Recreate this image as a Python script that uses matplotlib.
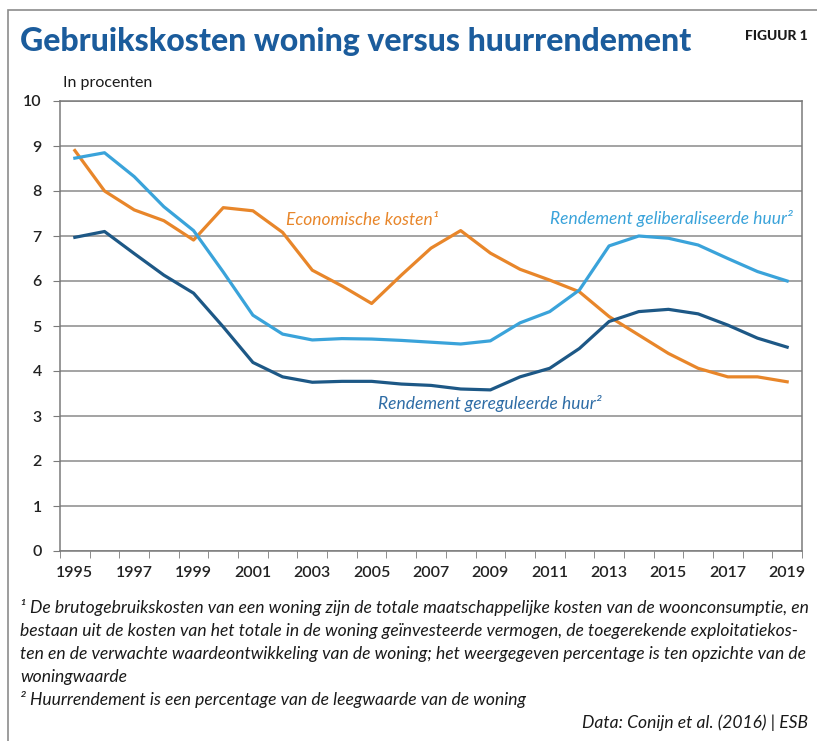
import matplotlib
matplotlib.use("Agg")
import matplotlib.pyplot as plt
import numpy as np
from matplotlib.patches import Rectangle

years = list(range(1995, 2020))

economische_kosten = [8.90, 8.00, 7.58, 7.34, 6.91, 7.63, 7.56, 7.08, 6.24, 5.89, 5.50,
                      6.13, 6.73, 7.12, 6.62, 6.26, 6.02, 5.76, 5.21, 4.80, 4.39, 4.06,
                      3.87, 3.87, 3.76]
geliberaliseerd = [8.73, 8.85, 8.32, 7.65, 7.12, 6.20, 5.24, 4.82, 4.69, 4.72, 4.71,
                   4.68, 4.64, 4.60, 4.67, 5.07, 5.32, 5.80, 6.78, 7.00, 6.95, 6.80,
                   6.50, 6.21, 6.00]
gereguleerd = [6.97, 7.10, 6.61, 6.13, 5.73, 4.98, 4.19, 3.87, 3.75, 3.77, 3.77,
               3.71, 3.68, 3.60, 3.58, 3.87, 4.06, 4.50, 5.10, 5.32, 5.37, 5.27,
               5.02, 4.73, 4.53]

year_labels = [str(y) for y in years[::2]]

ORANGE = "#E8862A"
LIGHT = "#3AA3DA"
DARK = "#1D5886"
MID = "#2F6DA6"
TITLE = "#1B5C9C"
GRID = "#8a8a8a"

sans = ["Lato", "DejaVu Sans"]

fig = plt.figure(figsize=(8.17, 7.41), dpi=100)

# outer frame
fig.patches.append(Rectangle((8 / 817, -0.05), 1.0, 0.05 + 1 - 10 / 741,
                             transform=fig.transFigure, fill=False,
                             edgecolor="#8c8c8c", lw=1.2))

ax = fig.add_axes([60 / 817, 1 - 551 / 741, 742 / 817, 450 / 741])

x = np.arange(len(years))
ax.plot(x, economische_kosten, color=ORANGE, lw=2.3, solid_joinstyle="round")
ax.plot(x, geliberaliseerd, color=LIGHT, lw=2.3, solid_joinstyle="round")
ax.plot(x, gereguleerd, color=DARK, lw=2.3, solid_joinstyle="round")

ax.set_xlim(-0.5, len(years) - 0.5)
ax.set_ylim(0, 10)
ax.set_yticks(range(0, 11))
ax.set_xticks(x[::2])
ax.set_xticklabels(year_labels)
ax.set_xticks(np.arange(-0.5, len(years)), minor=True)
ax.grid(axis="y", color=GRID, lw=1.1)
ax.set_axisbelow(True)
for s in ax.spines.values():
    s.set_color("#7a7a7a")
    s.set_linewidth(1.1)
ax.tick_params(axis="x", which="major", length=0, pad=11, labelsize=11.5)
ax.tick_params(axis="x", which="minor", length=5, color="#7a7a7a")
ax.tick_params(axis="y", length=5, color="#7a7a7a", pad=8, labelsize=11.5)
for lab in ax.get_xticklabels() + ax.get_yticklabels():
    lab.set_family(sans)
    lab.set_color("#222222")
    lab.set_fontweight("semibold")

# series labels
ax.text(7.1, 7.35, "Economische kosten\u00b9", color=ORANGE, fontsize=12.5,
        style="italic", family=sans, va="center")
ax.text(16.0, 7.38, "Rendement geliberaliseerde huur\u00b2", color=LIGHT, fontsize=12.5,
        style="italic", family=sans, va="center")
ax.text(10.2, 3.27, "Rendement gereguleerde huur\u00b2", color=MID, fontsize=12.5,
        style="italic", family=sans, va="center")

# header
fig.text(20 / 817, 1 - 42 / 741, "Gebruikskosten woning versus huurrendement",
         color=TITLE, fontsize=23, fontweight="black", family=sans, va="center")
fig.text(808 / 817, 1 - 36 / 741, "FIGUUR 1", color="#1a1a1a", fontsize=10,
         fontweight="black", family=sans, ha="right", va="center")
fig.text(63 / 817, 1 - 83 / 741, "In procenten", color="#1a1a1a", fontsize=11.5,
         family=sans, va="center")

# footnotes
notes = [
    "\u00b9 De brutogebruikskosten van een woning zijn de totale maatschappelijke kosten van de woonconsumptie, en",
    "bestaan uit de kosten van het totale in de woning ge\u00efnvesteerde vermogen, de toegerekende exploitatiekos-",
    "ten en de verwachte waardeontwikkeling van de woning; het weergegeven percentage is ten opzichte van de",
    "woningwaarde",
    "\u00b2 Huurrendement is een percentage van de leegwaarde van de woning",
]
for i, line in enumerate(notes):
    fig.text(20 / 817, 1 - (608 + i * 23) / 741, line, color="#1a1a1a", fontsize=12.6,
             style="italic", family=sans, va="center")
fig.text(808 / 817, 1 - 723 / 741, "Data: Conijn et al. (2016) | ESB", color="#1a1a1a",
         fontsize=12.6, style="italic", family=sans, ha="right", va="center")

fig.savefig("out.png", dpi=100)
